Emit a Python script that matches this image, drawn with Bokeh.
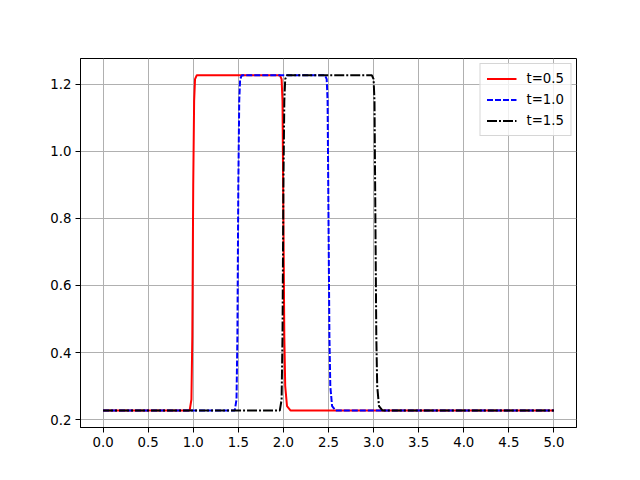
from bokeh.plotting import figure
from bokeh.models import FixedTicker, NumeralTickFormatter, Range1d, Legend, LegendItem
from bokeh.embed import file_html
from bokeh.resources import INLINE

# t=0.5
x_t05 = [0.0, 0.96, 0.98, 0.99, 1.00, 1.01, 1.02, 1.04, 1.96, 1.98, 1.99, 2.00, 2.01, 2.02, 2.04, 2.08, 5.0]
y_t05 = [0.227, 0.227, 0.26, 0.45, 0.90, 1.15, 1.215, 1.227, 1.227, 1.215, 1.15, 0.80, 0.45, 0.30, 0.24, 0.227, 0.227]
# t=1.0
x_t10 = [0.0, 1.46, 1.48, 1.49, 1.50, 1.51, 1.52, 1.54, 2.46, 2.48, 2.49, 2.50, 2.51, 2.52, 2.54, 2.58, 5.0]
y_t10 = [0.227, 0.227, 0.26, 0.45, 0.90, 1.15, 1.215, 1.227, 1.227, 1.215, 1.15, 0.80, 0.45, 0.30, 0.24, 0.227, 0.227]
# t=1.5
x_t15 = [0.0, 1.96, 1.98, 1.99, 2.00, 2.01, 2.02, 2.04, 2.98, 3.00, 3.01, 3.02, 3.03, 3.04, 3.06, 3.10, 5.0]
y_t15 = [0.227, 0.227, 0.26, 0.45, 0.90, 1.15, 1.215, 1.227, 1.227, 1.215, 1.15, 0.80, 0.45, 0.30, 0.24, 0.227, 0.227]

labels = ["t=0.5", "t=1.0", "t=1.5"]
x_ticks = [0.0, 0.5, 1.0, 1.5, 2.0, 2.5, 3.0, 3.5, 4.0, 4.5, 5.0]
y_ticks = [0.2, 0.4, 0.6, 0.8, 1.0, 1.2]

p = figure(width=640, height=480, output_backend="svg", toolbar_location=None,
           min_border_left=80, min_border_right=64, min_border_top=58, min_border_bottom=53,
           x_range=Range1d(-0.25, 5.25), y_range=Range1d(0.1766, 1.2766))

p.outline_line_color = "black"
p.outline_line_width = 1
p.background_fill_color = "white"
p.border_fill_color = "white"

for ax in (p.xaxis[0], p.yaxis[0]):
    ax.major_label_text_font = "DejaVu Sans"
    ax.major_label_text_font_size = "13.3px"
    ax.major_label_text_color = "black"
    ax.axis_line_color = "black"
    ax.major_tick_line_color = "black"
    ax.major_tick_out = 5
    ax.major_tick_in = 0
    ax.minor_tick_line_color = None
    ax.major_label_standoff = 4

p.xaxis.ticker = FixedTicker(ticks=x_ticks)
p.yaxis.ticker = FixedTicker(ticks=y_ticks)
p.xaxis.formatter = NumeralTickFormatter(format="0.0")
p.yaxis.formatter = NumeralTickFormatter(format="0.0")

p.xgrid.ticker = FixedTicker(ticks=x_ticks)
p.ygrid.ticker = FixedTicker(ticks=y_ticks)
for g in (p.xgrid[0], p.ygrid[0]):
    g.grid_line_color = "#b0b0b0"
    g.grid_line_width = 1

r1 = p.line(x_t05, y_t05, line_color="red", line_width=2)
r2 = p.line(x_t10, y_t10, line_color="blue", line_width=2, line_dash="6 2")
r3 = p.line(x_t15, y_t15, line_color="black", line_width=2, line_dash="10 2 2 2")

legend = Legend(items=[LegendItem(label=labels[0], renderers=[r1]),
                       LegendItem(label=labels[1], renderers=[r2]),
                       LegendItem(label=labels[2], renderers=[r3])],
                location="top_right")
legend.margin = 5
legend.padding = 6
legend.spacing = 4
legend.glyph_width = 30
legend.glyph_height = 17
legend.label_standoff = 10
legend.label_text_font = "DejaVu Sans"
legend.label_text_font_size = "13.3px"
legend.label_text_color = "black"
legend.label_height = 17
legend.border_line_color = "#cccccc"
legend.border_line_alpha = 0.8
legend.background_fill_alpha = 0.8
p.add_layout(legend)

open("out.html", "w").write(file_html(p, INLINE))
